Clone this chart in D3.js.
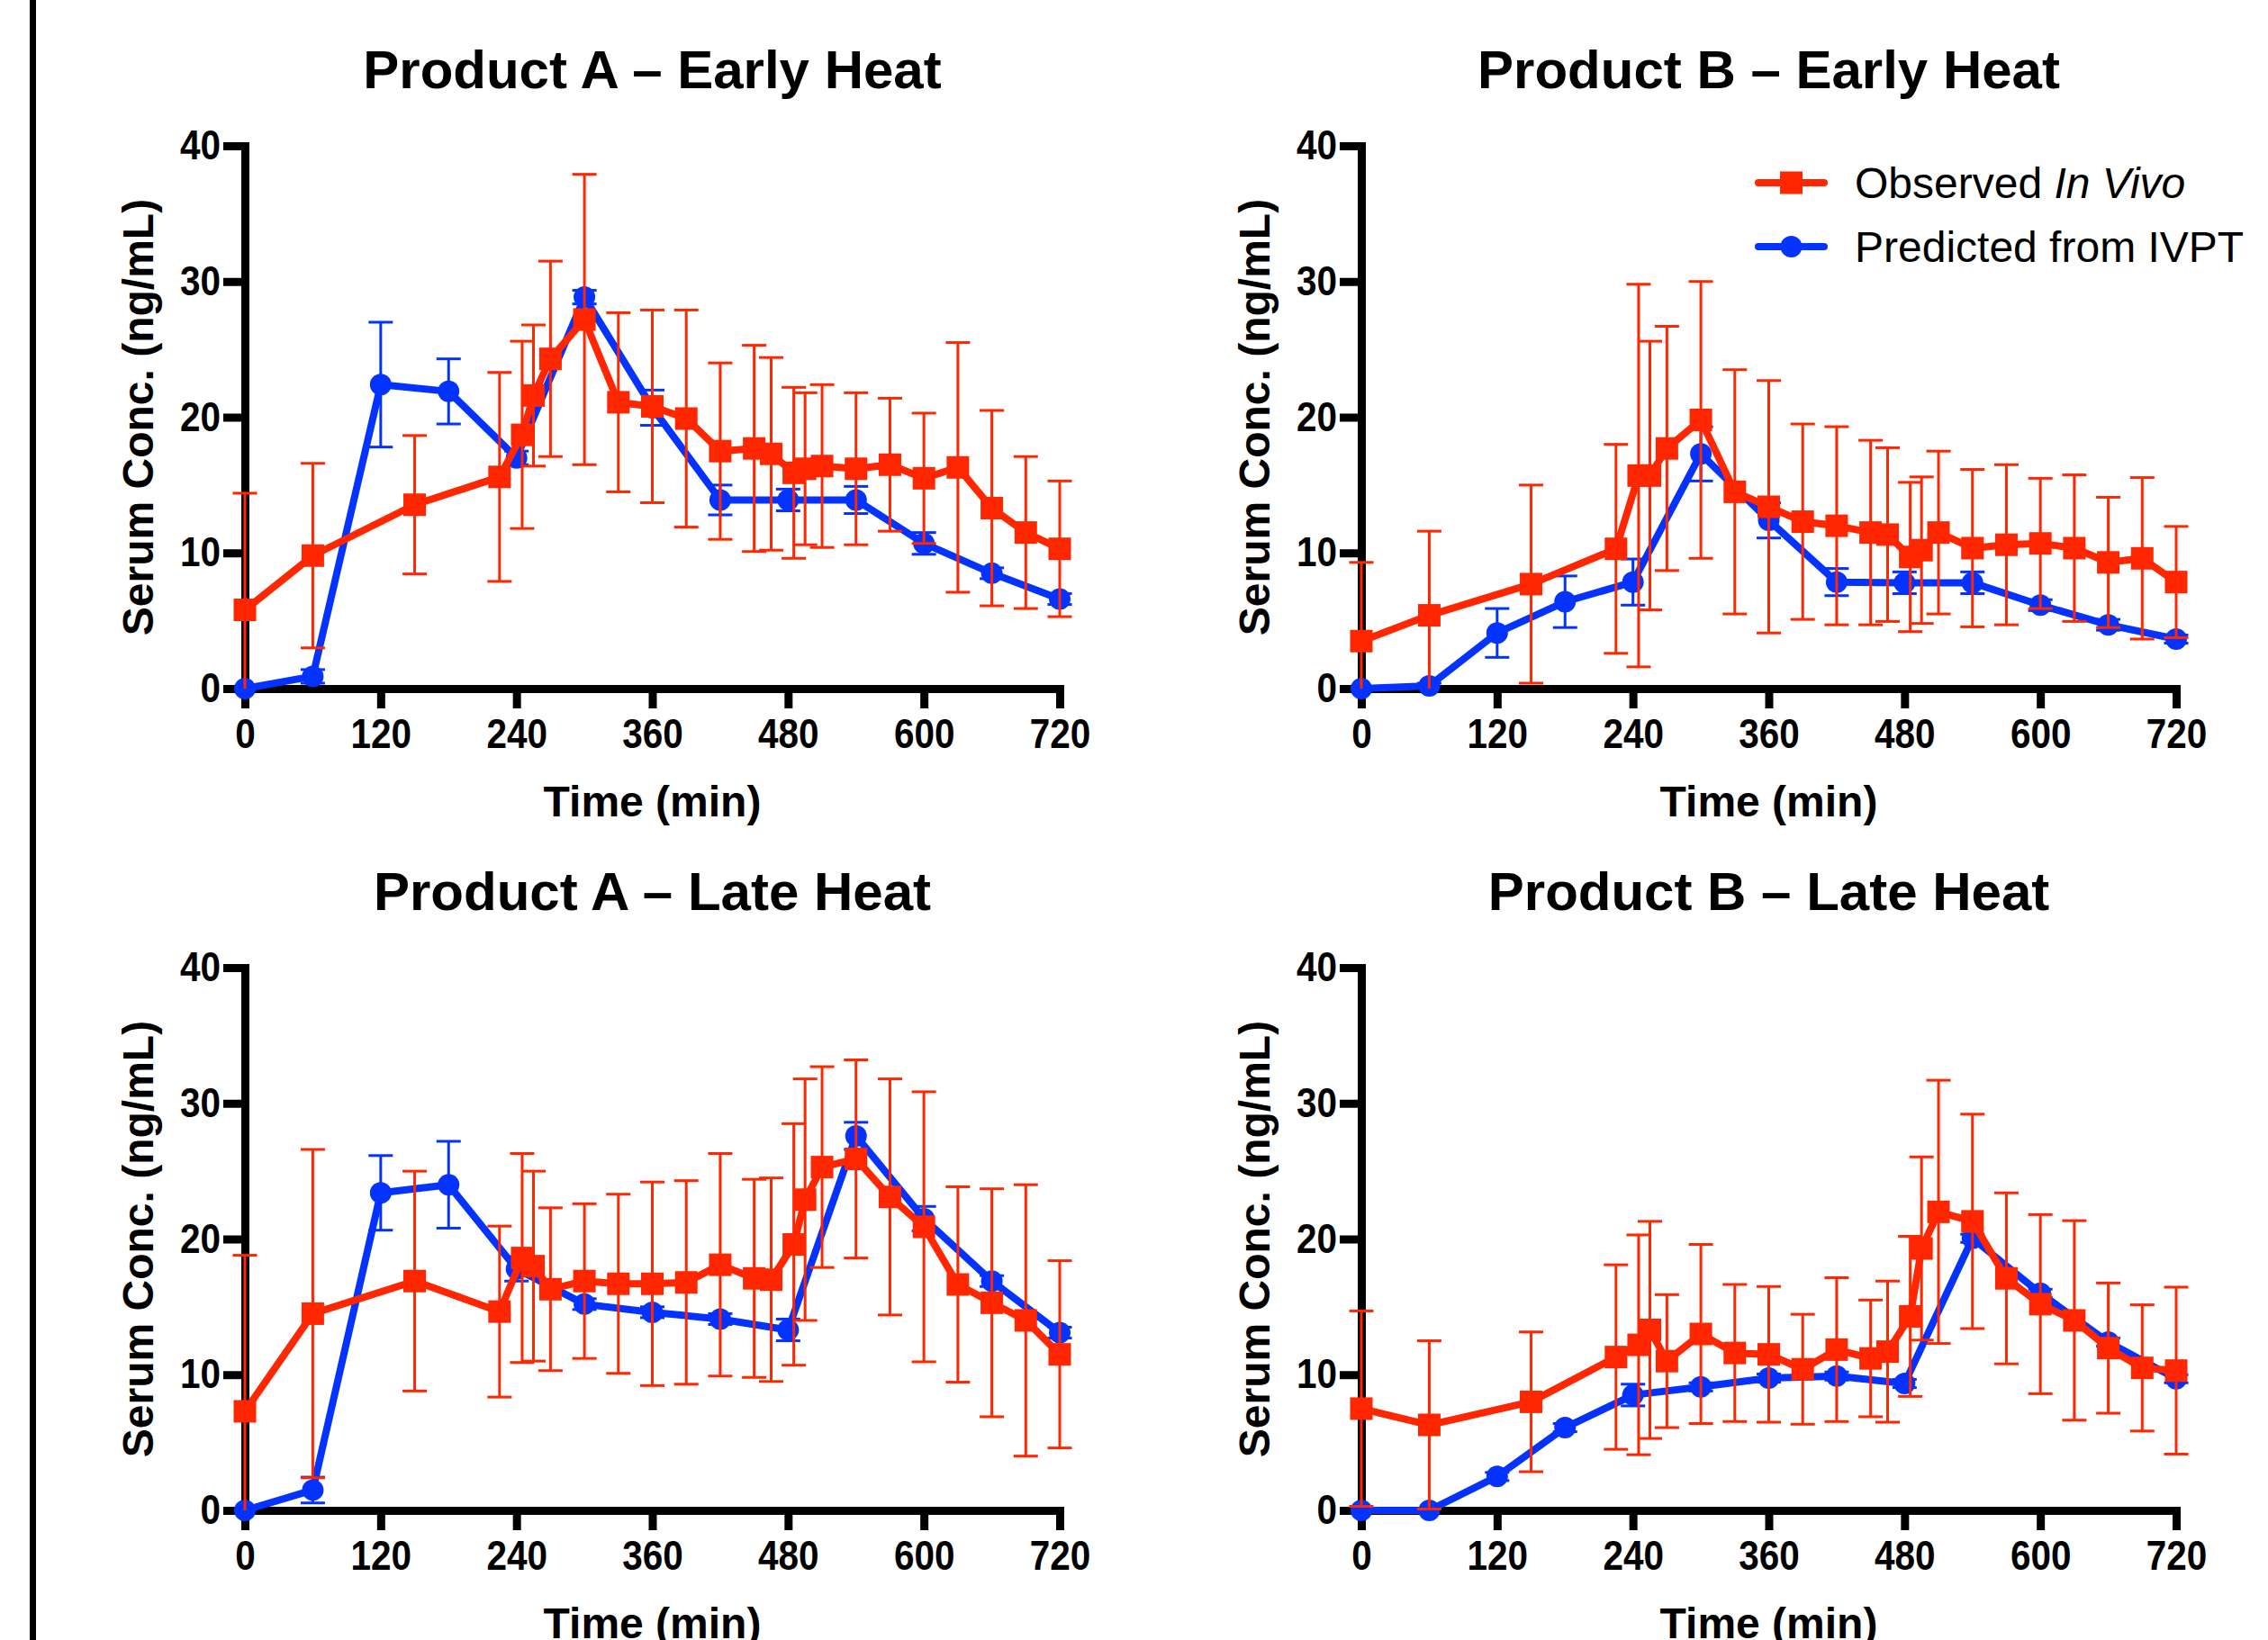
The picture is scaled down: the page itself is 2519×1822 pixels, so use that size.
<!DOCTYPE html>
<html>
<head>
<meta charset="utf-8">
<script src="https://cdn.jsdelivr.net/npm/d3@7"></script>
<style>
  html, body { margin: 0; padding: 0; background: #fff; overflow: hidden; }
  svg { display: block; }
  text { font-family: "Liberation Sans", Arial, Helvetica, sans-serif; }
</style>
</head>
<body>
<svg id="chart" width="2519" height="1822"></svg>
<script>
// sampling times (min)
const obsTimes = [0, 60, 150, 225, 245, 255, 270, 300, 330, 360, 390, 420, 450, 465, 485, 495, 510, 540, 570, 600, 630, 660, 690, 720];
const predTimes = [0, 60, 120, 180, 240, 300, 360, 420, 480, 540, 600, 660, 720];

const xTicks = [0, 120, 240, 360, 480, 600, 720];
const yTicks = [0, 10, 20, 30, 40];

const panelTitles = ['Product A \u2013 Early Heat', 'Product B \u2013 Early Heat', 'Product A \u2013 Late Heat', 'Product B \u2013 Late Heat'];
const legendLabels = ['Observed ', 'In Vivo', 'Predicted from IVPT'];

// observed in vivo: mean, SD
const obsAEarly = [5.8, 9.8, 13.55, 15.6, 18.7, 21.6, 24.3, 27.2, 21.1, 20.8, 19.9, 17.5, 17.7, 17.3, 15.9, 16.2, 16.4, 16.2, 16.5, 15.5, 16.3, 13.3, 11.5, 10.3];
const obsAEarlySD = [8.6, 6.8, 5.1, 7.7, 6.9, 5.2, 7.2, 10.7, 6.6, 7.1, 8.0, 6.5, 7.6, 7.1, 6.3, 5.6, 6.0, 5.6, 4.9, 4.8, 9.2, 7.2, 5.6, 5.0];
const obsBEarly = [3.5, 5.4, 7.7, 10.3, 15.7, 15.7, 17.7, 19.8, 14.5, 13.4, 12.3, 12.0, 11.5, 11.35, 9.7, 10.2, 11.5, 10.35, 10.6, 10.7, 10.35, 9.3, 9.6, 7.85];
const obsBEarlySD = [5.8, 6.2, 7.3, 7.7, 14.1, 9.9, 9.0, 10.2, 9.0, 9.3, 7.2, 7.3, 6.8, 6.4, 5.5, 5.4, 6.0, 5.8, 5.9, 4.8, 5.4, 4.8, 5.95, 4.1];
const obsALate = [7.3, 14.5, 16.9, 14.65, 18.6, 18.0, 16.3, 16.9, 16.7, 16.7, 16.8, 18.1, 17.1, 17.0, 19.6, 22.9, 25.3, 25.9, 23.1, 20.9, 16.65, 15.3, 14.0, 11.5];
const obsALateSD = [11.5, 12.1, 8.1, 6.3, 7.7, 7.0, 6.0, 5.7, 6.6, 7.5, 7.5, 8.2, 7.3, 7.5, 8.9, 8.9, 7.4, 7.3, 8.7, 9.95, 7.2, 8.4, 10.0, 6.9];
const obsBLate = [7.5, 6.3, 8.0, 11.3, 12.2, 13.3, 11.0, 13.0, 11.6, 11.5, 10.4, 11.85, 11.2, 11.7, 14.3, 19.3, 22.0, 21.3, 17.1, 15.2, 14.0, 11.96, 10.5, 10.3];
const obsBLateSD = [7.2, 6.2, 5.15, 6.8, 8.1, 8.0, 4.9, 6.6, 5.05, 5.0, 4.05, 5.3, 4.3, 5.2, 5.9, 6.75, 9.7, 7.9, 6.3, 6.6, 7.35, 4.8, 4.65, 6.15];

// predicted from IVPT: mean, SD
const predAEarly = [0, 0.9, 22.4, 21.9, 17.0, 28.85, 20.7, 13.9, 13.9, 13.9, 10.7, 8.5, 6.6];
const predAEarlySD = [0, 0.5, 4.6, 2.4, 0.5, 0.5, 1.3, 1.1, 0.8, 1.0, 0.8, 0.4, 0.4];
const predBEarly = [0, 0.2, 4.1, 6.4, 7.85, 17.3, 12.4, 7.85, 7.8, 7.8, 6.15, 4.7, 3.65];
const predBEarlySD = [0, 0.2, 1.8, 1.9, 1.7, 2.0, 1.3, 1.0, 0.8, 0.8, 0.4, 0.4, 0.3];
const predALate = [0, 1.5, 23.4, 24.0, 17.8, 15.2, 14.6, 14.1, 13.3, 27.6, 21.5, 16.9, 13.1];
const predALateSD = [0, 0.95, 2.75, 3.2, 0.9, 0.4, 0.4, 0.4, 0.8, 1.0, 0.9, 0.4, 0.4];
const predBLate = [0, 0, 2.5, 6.1, 8.5, 9.1, 9.75, 9.9, 9.35, 20.05, 16.0, 12.4, 9.7];
const predBLateSD = [0, 0, 0.3, 0.3, 0.8, 0.3, 0.3, 0.3, 0.3, 0.3, 0.3, 0.3, 0.3];

const RED = '#FF2600';
const BLUE = '#0433FF';

const panels = [
  { title: panelTitles[0], ox: 272, oy: 162, obs: obsAEarly, obsSD: obsAEarlySD, pred: predAEarly, predSD: predAEarlySD, legend: false },
  { title: panelTitles[1], ox: 1512, oy: 162, obs: obsBEarly, obsSD: obsBEarlySD, pred: predBEarly, predSD: predBEarlySD, legend: true },
  { title: panelTitles[2], ox: 272, oy: 1075, obs: obsALate, obsSD: obsALateSD, pred: predALate, predSD: predALateSD, legend: false },
  { title: panelTitles[3], ox: 1512, oy: 1075, obs: obsBLate, obsSD: obsBLateSD, pred: predBLate, predSD: predBLateSD, legend: false }
];

const innerWidth = 905;
const innerHeight = 603;
const tickFont = 46;
const tickSqueeze = 0.88; // tick digits in the original are narrow

const svg = d3.select('#chart');

// vertical rule at the left edge
svg.append('line')
  .attr('x1', 36.5).attr('x2', 36.5)
  .attr('y1', 0).attr('y2', 1822)
  .attr('stroke', '#000').attr('stroke-width', 7);

panels.forEach((p) => {
  const g = svg.append('g').attr('transform', `translate(${p.ox},${p.oy})`);

  const xScale = d3.scaleLinear().domain([0, 720]).range([0, innerWidth]);
  const yScale = d3.scaleLinear().domain([0, 40]).range([innerHeight, 0]).clamp(true);

  // title
  g.append('text')
    .attr('x', innerWidth / 2).attr('y', -64)
    .attr('text-anchor', 'middle')
    .attr('font-size', 60).attr('font-weight', 'bold')
    .text(p.title);

  // axes
  const yAxis = d3.axisLeft(yScale).tickValues(yTicks).tickSize(24).tickPadding(3).tickSizeOuter(0);
  const xAxis = d3.axisBottom(xScale).tickValues(xTicks).tickSize(22).tickPadding(11).tickSizeOuter(0);

  const yAxisG = g.append('g').call(yAxis);
  const xAxisG = g.append('g').attr('transform', `translate(0,${innerHeight})`).call(xAxis);

  [yAxisG, xAxisG].forEach((a) => {
    a.attr('font-family', null).attr('font-size', null);
    a.select('.domain').attr('stroke', '#000').attr('stroke-width', 9).attr('stroke-linecap', 'square');
    a.selectAll('.tick line').attr('stroke', '#000').attr('stroke-width', 9);
    a.selectAll('.tick text')
      .attr('fill', '#000')
      .attr('font-size', tickFont)
      .attr('font-weight', 'bold');
  });
  // narrow the digits horizontally while keeping the anchor point
  yAxisG.selectAll('.tick text')
    .attr('x', -27 / tickSqueeze)
    .attr('transform', `scale(${tickSqueeze},1)`);
  xAxisG.selectAll('.tick text')
    .attr('transform', `scale(${tickSqueeze},1)`);

  // axis titles
  g.append('text')
    .attr('x', innerWidth / 2).attr('y', innerHeight + 142)
    .attr('text-anchor', 'middle')
    .attr('font-size', 48).attr('font-weight', 'bold')
    .text('Time (min)');

  g.append('text')
    .attr('transform', `translate(-102,${innerHeight / 2}) rotate(-90)`)
    .attr('text-anchor', 'middle')
    .attr('font-size', 48).attr('font-weight', 'bold')
    .text('Serum Conc. (ng/mL)');

  const line = d3.line()
    .x((d) => xScale(d.t))
    .y((d) => yScale(d.v));

  const drawSeries = (times, vals, sds, color, shape) => {
    const rows = times.map((t, i) => ({ t: t, v: vals[i], sd: sds[i] }));
    const sg = g.append('g');

    // error bars
    const eb = sg.selectAll('.err')
      .data(rows.filter((d) => d.sd > 0))
      .join('g')
      .attr('class', 'err')
      .attr('stroke', color)
      .attr('stroke-width', 3);
    eb.append('line')
      .attr('x1', (d) => xScale(d.t)).attr('x2', (d) => xScale(d.t))
      .attr('y1', (d) => yScale(d.v - d.sd)).attr('y2', (d) => yScale(d.v + d.sd));
    eb.append('line')
      .attr('x1', (d) => xScale(d.t) - 13.5).attr('x2', (d) => xScale(d.t) + 13.5)
      .attr('y1', (d) => yScale(d.v + d.sd)).attr('y2', (d) => yScale(d.v + d.sd));
    eb.filter((d) => d.v - d.sd > 0).append('line')
      .attr('x1', (d) => xScale(d.t) - 13.5).attr('x2', (d) => xScale(d.t) + 13.5)
      .attr('y1', (d) => yScale(d.v - d.sd)).attr('y2', (d) => yScale(d.v - d.sd));

    sg.append('path')
      .datum(rows)
      .attr('d', line)
      .attr('fill', 'none')
      .attr('stroke', color)
      .attr('stroke-width', 8)
      .attr('stroke-linejoin', 'round');

    if (shape === 'circle') {
      sg.selectAll('.dot')
        .data(rows)
        .join('circle')
        .attr('class', 'dot')
        .attr('cx', (d) => xScale(d.t))
        .attr('cy', (d) => yScale(d.v))
        .attr('r', 12)
        .attr('fill', color);
    } else {
      sg.selectAll('.sq')
        .data(rows)
        .join('rect')
        .attr('class', 'sq')
        .attr('x', (d) => xScale(d.t) - 12.5)
        .attr('y', (d) => yScale(d.v) - 12.5)
        .attr('width', 25)
        .attr('height', 25)
        .attr('fill', color);
    }
  };

  drawSeries(predTimes, p.pred, p.predSD, BLUE, 'circle');
  drawSeries(obsTimes, p.obs, p.obsSD, RED, 'square');

  if (p.legend) {
    const lg = g.append('g').attr('transform', 'translate(441,41)');
    const items = [
      { color: RED, shape: 'square', dy: 0 },
      { color: BLUE, shape: 'circle', dy: 71 }
    ];
    items.forEach((it, i) => {
      const row = lg.append('g').attr('transform', `translate(0,${it.dy})`);
      row.append('line')
        .attr('x1', 0).attr('x2', 73)
        .attr('stroke', it.color).attr('stroke-width', 8).attr('stroke-linecap', 'round');
      if (it.shape === 'square') {
        row.append('rect').attr('x', 24).attr('y', -12.5).attr('width', 25).attr('height', 25).attr('fill', it.color);
      } else {
        row.append('circle').attr('cx', 36.5).attr('cy', 0).attr('r', 12).attr('fill', it.color);
      }
      const txt = row.append('text')
        .attr('x', 107).attr('y', 0).attr('dy', '0.35em')
        .attr('font-size', 48);
      if (i === 0) {
        txt.append('tspan').text(legendLabels[0]);
        txt.append('tspan').attr('font-style', 'italic').text(legendLabels[1]);
      } else {
        txt.text(legendLabels[2]);
      }
    });
  }
});
</script>
</body>
</html>
